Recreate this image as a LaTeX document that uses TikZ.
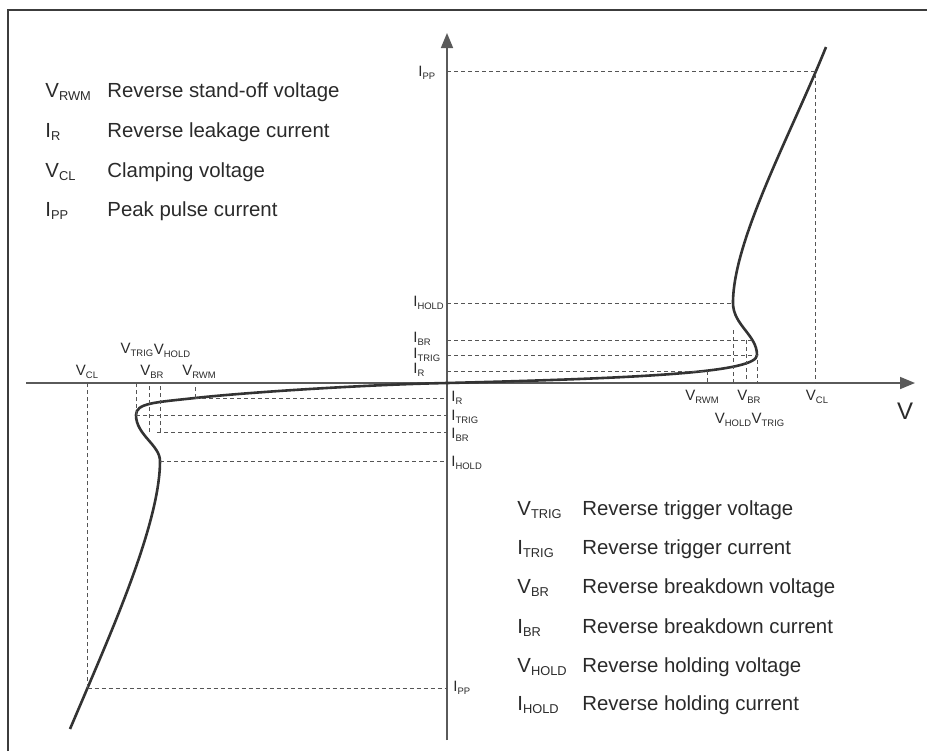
\documentclass[tikz,border=0pt]{standalone}
\usepackage{fontspec}
\setmainfont{Liberation Sans}
\usetikzlibrary{arrows.meta}

\definecolor{curvegray}{HTML}{333333}
\definecolor{axisgray}{HTML}{5A5A5A}
\definecolor{guidegray}{HTML}{555555}
\definecolor{textgray}{HTML}{2A2A2A}
\definecolor{framegray}{HTML}{3C3C3C}
\newcommand{\sbs}[1]{\raisebox{-0.35ex}{\scalebox{0.63}{#1}}}

\begin{document}
\begin{tikzpicture}[x=0.5pt, y=-0.5pt,
    axis/.style={draw=axisgray, line width=0.8pt, -{Triangle[length=7.5pt,width=6pt]}},
    guide/.style={draw=guidegray, line width=0.5pt, dash pattern=on 2pt off 1.5pt},
    ivcurve/.style={draw=curvegray, line width=1.3pt},
    lbl/.style={inner sep=0pt, text=textgray, font=\fontsize{7.5}{9}\selectfont},
    legend/.style={anchor=base west, inner sep=0pt, text=textgray, font=\fontsize{10.2}{12}\selectfont}]

    \useasboundingbox (0,0) rectangle (927,751);
    \draw[draw=framegray, line width=1.4pt] (8,751) -- (8,10) -- (927,10);

    % axes
    \coordinate (o) at (447,383);
    \coordinate (xmin) at (26,383);
    \coordinate (xmax) at (915,383);
    \coordinate (ymin) at (447,740);
    \coordinate (ymax) at (447,33);
    \draw[axis] (xmin) -- (xmax);
    \draw[axis] (ymin) -- (ymax);
    \node[inner sep=0pt, text=textgray, font=\fontsize{12}{14}\selectfont] (vaxis) at (905,411) {V};

    % points on the curve
    \coordinate (top) at (826,47);
    \coordinate (pp) at (815,71);
    \coordinate (hold) at (733,303);
    \coordinate (vhold) at (733,330);
    \coordinate (br) at (751,340);
    \coordinate (vbr) at (746,340);
    \coordinate (trig) at (757,355);
    \coordinate (ir) at (703,371);
    \coordinate (rwm) at (707,371);
    \coordinate (lr) at (195,398);
    \coordinate (ltrig) at (136,415);
    \coordinate (lbr) at (157,432);
    \coordinate (lvbr) at (149,432);
    \coordinate (lhold) at (160,461);
    \coordinate (lpp) at (87.5,688);
    \coordinate (bot) at (70,729);

    \draw[ivcurve] (top) .. controls (791,134) and (733,240) .. (hold)
        .. controls (733,325) and (757,335) .. (trig)
        .. controls (757,372) and (650,378) .. (o)
        .. controls (370,384.5) and (250,392) .. (lr)
        .. controls (155,402.4) and (136,403) .. (ltrig)
        .. controls (136,435) and (160,445) .. (lhold)
        .. controls (160,520) and (115.5,622) .. (lpp) -- (bot);

    % right guides
    \draw[guide] (o |- pp) -- (pp) -- (pp |- o);
    \draw[guide] (o |- hold) -- (hold);
    \draw[guide] (o |- br) -- (br);
    \draw[guide] (o |- trig) -- (trig) -- (trig |- o);
    \draw[guide] (o |- ir) -- (ir);
    \draw[guide] (rwm) -- (rwm |- o);
    \draw[guide] (vhold) -- (vhold |- o);
    \draw[guide] (vbr) -- (vbr |- o);

    % left guides
    \draw[guide] (lr) -- (o |- lr);
    \draw[guide] (lr) -- (lr |- o);
    \draw[guide] (ltrig) -- (o |- ltrig);
    \draw[guide] (ltrig) -- (ltrig |- o);
    \draw[guide] (lbr) -- (o |- lbr);
    \draw[guide] (lvbr) -- (lvbr |- o);
    \draw[guide] (lhold |- lbr) -- (lhold |- o);
    \draw[guide] (lhold) -- (o |- lhold);
    \draw[guide] (lpp) -- (o |- lpp);
    \draw[guide] (lpp) -- (lpp |- o);

    % labels, right half
    \node[lbl, anchor=west] (ippr) at (418,73) {I\sbs{PP}};
    \node[lbl, anchor=west] (iholdr) at (413,303) {I\sbs{HOLD}};
    \node[lbl, anchor=west] (ibrr) at (413,339) {I\sbs{BR}};
    \node[lbl, anchor=west] (itrigr) at (413,355) {I\sbs{TRIG}};
    \node[lbl, anchor=west] (irr) at (413,370) {I\sbs{R}};
    \node[lbl] (vrwmr) at (702,397) {V\sbs{RWM}};
    \node[lbl] (vbrr) at (749,397) {V\sbs{BR}};
    \node[lbl] (vclr) at (817,397) {V\sbs{CL}};
    \node[lbl] (vholdr) at (733,420) {V\sbs{HOLD}};
    \node[lbl] (vtrigr) at (768,420) {V\sbs{TRIG}};

    % labels, left half
    \node[lbl] (vcll) at (87,372) {V\sbs{CL}};
    \node[lbl] (vbrl) at (152,372) {V\sbs{BR}};
    \node[lbl] (vrwml) at (199,372) {V\sbs{RWM}};
    \node[lbl] (vtrigl) at (137,350) {V\sbs{TRIG}};
    \node[lbl] (vholdl) at (172,351) {V\sbs{HOLD}};
    \node[lbl, anchor=west] (irl) at (451,398) {I\sbs{R}};
    \node[lbl, anchor=west] (itrigl) at (451,417) {I\sbs{TRIG}};
    \node[lbl, anchor=west] (ibrl) at (451,435) {I\sbs{BR}};
    \node[lbl, anchor=west] (iholdl) at (451,463) {I\sbs{HOLD}};
    \node[lbl, anchor=west] (ippl) at (453,688) {I\sbs{PP}};

    % legend, top left
    \node[legend] (s1) at (45,97) {V\sbs{RWM}};
    \node[legend] (t1) at (107,97) {Reverse stand-off voltage};
    \node[legend] (s2) at (45,137) {I\sbs{R}};
    \node[legend] (t2) at (107,137) {Reverse leakage current};
    \node[legend] (s3) at (45,177) {V\sbs{CL}};
    \node[legend] (t3) at (107,177) {Clamping voltage};
    \node[legend] (s4) at (45,216) {I\sbs{PP}};
    \node[legend] (t4) at (107,216) {Peak pulse current};

    % legend, bottom right
    \node[legend] (s5) at (517,515) {V\sbs{TRIG}};
    \node[legend] (t5) at (582,515) {Reverse trigger voltage};
    \node[legend] (s6) at (517,554) {I\sbs{TRIG}};
    \node[legend] (t6) at (582,554) {Reverse trigger current};
    \node[legend] (s7) at (517,593) {V\sbs{BR}};
    \node[legend] (t7) at (582,593) {Reverse breakdown voltage};
    \node[legend] (s8) at (517,633) {I\sbs{BR}};
    \node[legend] (t8) at (582,633) {Reverse breakdown current};
    \node[legend] (s9) at (517,672) {V\sbs{HOLD}};
    \node[legend] (t9) at (582,672) {Reverse holding voltage};
    \node[legend] (s10) at (517,710) {I\sbs{HOLD}};
    \node[legend] (t10) at (582,710) {Reverse holding current};
\end{tikzpicture}
\end{document}
